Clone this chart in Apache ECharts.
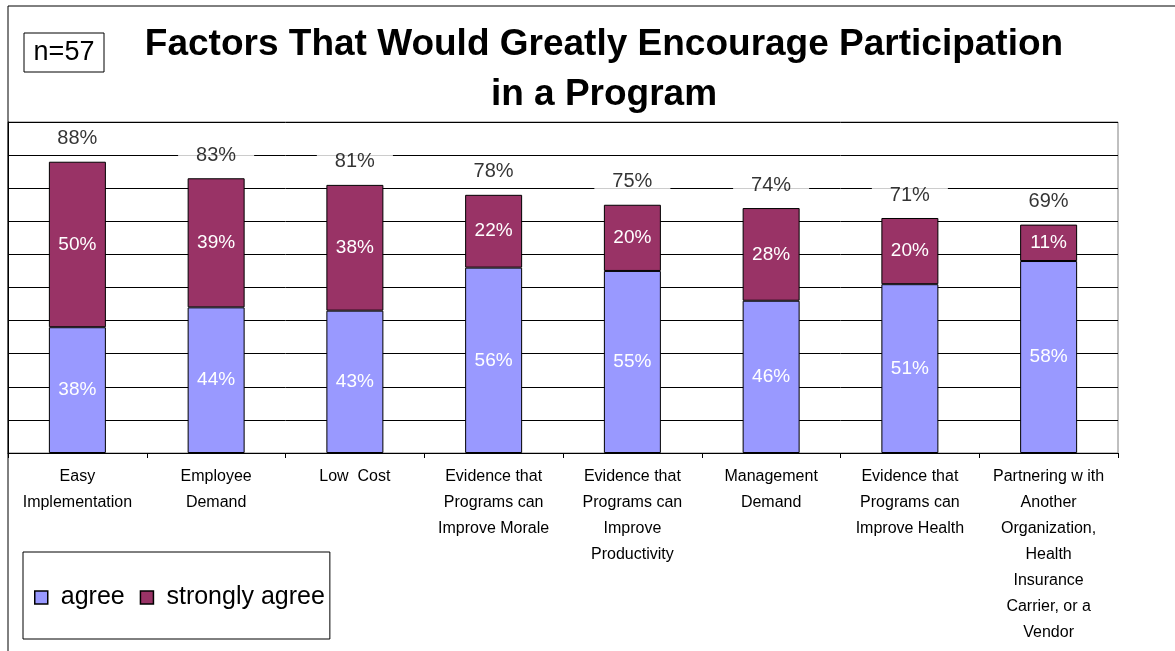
<!DOCTYPE html>
<html>
<head>
<meta charset="utf-8">
<script src="https://cdn.jsdelivr.net/npm/echarts@6/dist/echarts.min.js"></script>
<style>
  html, body { margin: 0; padding: 0; background: #fff; }
  #chart { width: 1175px; height: 651px; }
</style>
</head>
<body>
<div id="chart"></div>
<script>
var categories = [
  'Easy\nImplementation',
  'Employee\nDemand',
  'Low  Cost',
  'Evidence that\nPrograms can\nImprove Morale',
  'Evidence that\nPrograms can\nImprove\nProductivity',
  'Management\nDemand',
  'Evidence that\nPrograms can\nImprove Health',
  'Partnering w ith\nAnother\nOrganization,\nHealth\nInsurance\nCarrier, or a\nVendor'
];
var agree = [38, 44, 43, 56, 55, 46, 51, 58];
var stronglyAgree = [50, 39, 38, 22, 20, 28, 20, 11];
var totals = [88, 83, 81, 78, 75, 74, 71, 69];

var font = "'Liberation Sans', Arial, sans-serif";
var chart = echarts.init(document.getElementById('chart'));

chart.setOption({
  animation: false,
  textStyle: { fontFamily: font },
  title: {
    text: 'Factors That Would Greatly Encourage Participation\nin a Program',
    left: 599,
    top: 15,
    textAlign: 'center',
    textStyle: { fontSize: 37, fontWeight: 'bold', color: '#000', lineHeight: 50, fontFamily: font }
  },
  legend: {
    data: ['agree', 'strongly agree'],
    left: 23,
    top: 552,
    orient: 'horizontal',
    padding: [33, 5, 29, 11],
    itemWidth: 13,
    itemHeight: 13,
    itemGap: 15,
    borderColor: '#000',
    borderWidth: 1,
    icon: 'rect',
    itemStyle: { borderColor: '#000', borderWidth: 1.5 },
    textStyle: { fontSize: 25, color: '#000', fontFamily: font, padding: [0, 0, 0, 8] }
  },
  grid: {
    left: 8, right: 57, top: 122, bottom: 198,
    show: true, borderColor: '#808080', borderWidth: 1
  },
  xAxis: {
    type: 'category',
    data: categories,
    axisLine: { lineStyle: { color: '#000', width: 1 } },
    axisTick: { show: true, length: 5, lineStyle: { color: '#000' } },
    axisLabel: { interval: 0, fontSize: 16, lineHeight: 26, color: '#000', margin: 11, fontFamily: font }
  },
  yAxis: {
    type: 'value',
    min: 0, max: 100, interval: 10,
    axisLabel: { show: false },
    axisTick: { show: false },
    axisLine: { show: true, lineStyle: { color: '#000' } },
    splitLine: { lineStyle: { color: '#000', width: 1 } }
  },
  graphic: [
    {
      type: 'rect', silent: true,
      shape: { x: 8, y: 6, width: 1300, height: 800 },
      style: { fill: 'none', stroke: '#000', lineWidth: 1 }
    },
    {
      type: 'rect', silent: true,
      shape: { x: 24, y: 33, width: 80, height: 39 },
      style: { fill: '#fff', stroke: '#000', lineWidth: 1 }
    },
    {
      type: 'text', silent: true,
      x: 64, y: 53,
      style: { text: 'n=57', fontSize: 27, fill: '#000', fontFamily: font, align: 'center', verticalAlign: 'middle' }
    }
  ],
  series: [
    {
      name: 'agree',
      type: 'bar',
      stack: 'total',
      data: agree,
      barWidth: 57,
      itemStyle: { color: '#9999FF', borderColor: '#000', borderWidth: 1 },
      label: { show: true, position: 'inside', color: '#fff', fontSize: 19, formatter: '{c}%', fontFamily: font }
    },
    {
      name: 'strongly agree',
      type: 'bar',
      stack: 'total',
      data: stronglyAgree,
      barWidth: 57,
      itemStyle: { color: '#993366', borderColor: '#000', borderWidth: 1 },
      label: { show: true, position: 'inside', color: '#fff', fontSize: 19, formatter: '{c}%', fontFamily: font }
    },
    {
      name: 'total',
      type: 'scatter',
      data: totals,
      symbolSize: 0,
      silent: true,
      label: {
        show: true,
        position: 'top',
        distance: 11,
        formatter: '{c}%',
        color: '#000',
        fontSize: 20,
        backgroundColor: '#fff',
        padding: [2, 18],
        fontFamily: font
      },
      z: 5
    }
  ]
});
</script>
</body>
</html>
